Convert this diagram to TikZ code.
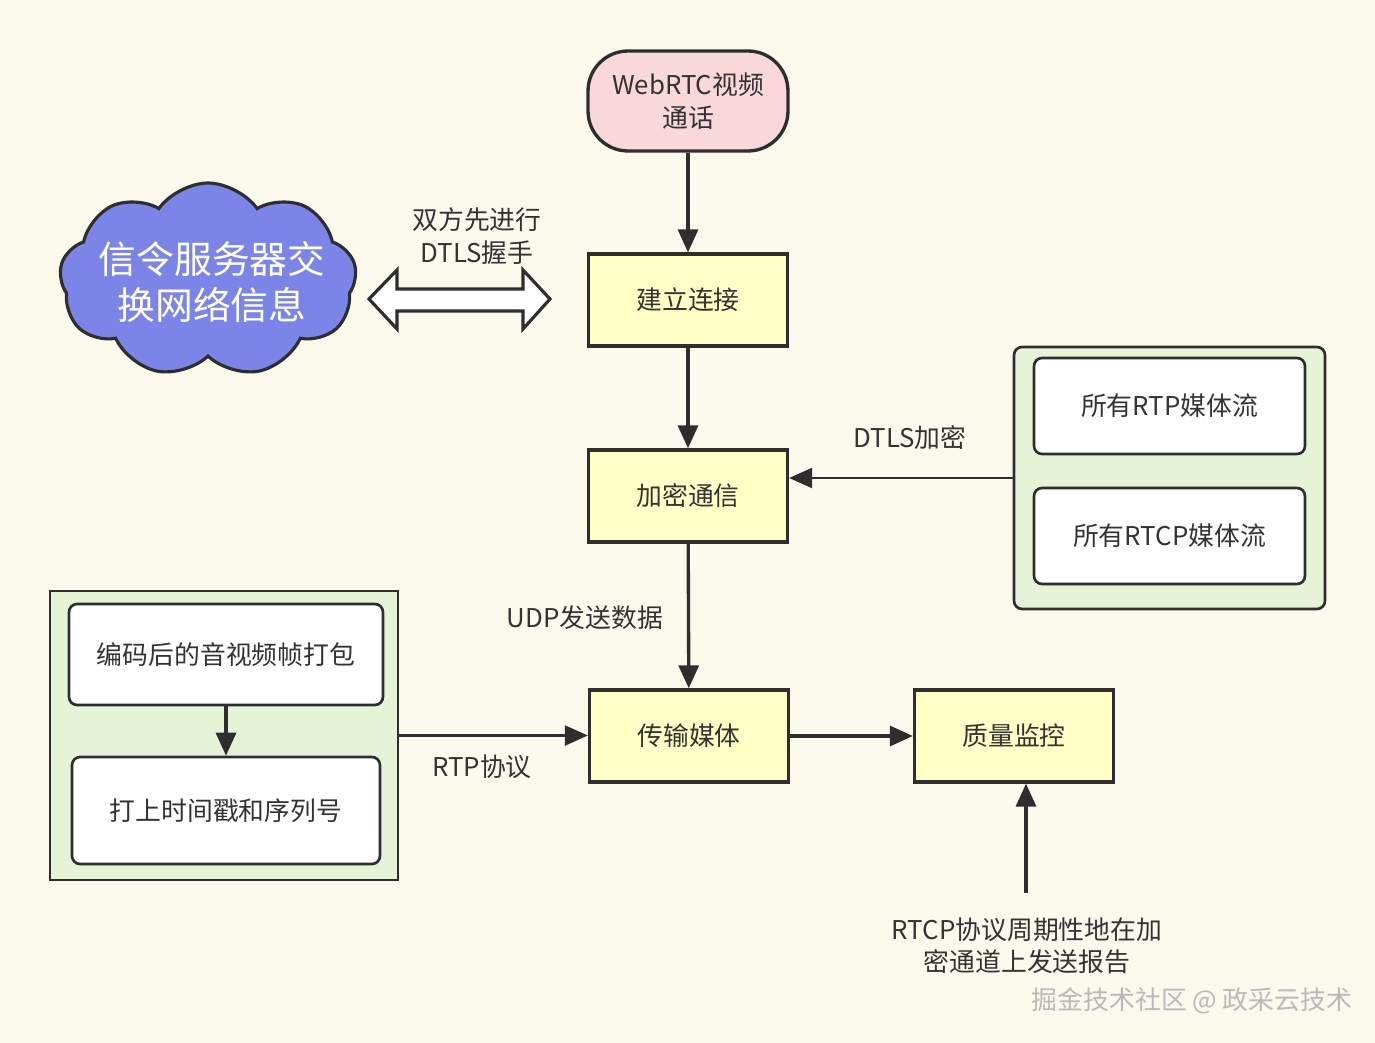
\documentclass[tikz,border=0pt]{standalone}
\usepackage{fontspec}
\setmainfont{Noto Sans CJK SC}
\usetikzlibrary{arrows.meta, shapes.symbols}
\definecolor{bg}{HTML}{FBF9EC}
\definecolor{edge}{HTML}{2E2E2E}
\definecolor{txt}{HTML}{333333}
\definecolor{boxyellow}{HTML}{FFFFC6}
\definecolor{startpink}{HTML}{F8D8D8}
\definecolor{groupgreen}{HTML}{E5F4D7}
\definecolor{cloudblue}{HTML}{7B85E8}
\begin{document}
\begin{tikzpicture}[x=0.02cm, y=-0.02cm,
		>={Triangle[length=0.46cm, width=0.4cm]},
		every node/.style={text=txt, font=\fontsize{14.7}{19}\selectfont},
		stepbox/.style={draw=edge, line width=1.9pt, fill=boxyellow,
				minimum width=3.98cm, minimum height=1.84cm},
		groupbox/.style={draw=edge, line width=1.5pt, fill=groupgreen},
		itembox/.style={draw=edge, line width=1.5pt, fill=white,
				rounded corners=0.16cm},
		link/.style={draw=edge, line width=1.9pt},
		thinlink/.style={draw=edge, line width=1.3pt},
		label/.style={align=center}
	]
	\fill[bg] (0,0) rectangle (1375,1043);
	\useasboundingbox (0,0) rectangle (1375,1043);

	% signalling cloud and handshake
	\node[cloud, cloud puffs=9, cloud puff arc=110, aspect=1.5,
		draw=edge, line width=1.8pt, fill=cloudblue,
		minimum width=5.94cm, minimum height=3.88cm] (cloud) at (208,280) {};
	\node[text=white, align=center,
		font=\fontsize{21.5}{26}\selectfont] (cloudtext) at (212,282)
	{信令服务器交\\换网络信息};
	\draw[edge, line width=1.8pt, fill=white] (369,299) -- (397,270) -- (397,289)
	-- (523,289) -- (523,270) -- (550,299) -- (523,329) -- (523,311)
	-- (397,311) -- (397,329) -- cycle;
	\node[label] (handshake) at (477,236) {双方先进行\\DTLS握手};

	% main flow
	\node[draw=edge, line width=1.9pt, fill=startpink, rounded corners=0.8cm,
		minimum width=4cm, minimum height=2cm, align=center,
		font=\fontsize{14.7}{18.7}\selectfont] (start) at (688,101)
	{WebRTC视频\\通话};
	\node[stepbox] (connect) at (688,300) {建立连接};
	\node[stepbox] (crypt) at (688,496) {加密通信};
	\node[stepbox] (media) at (689,736) {传输媒体};
	\node[stepbox] (quality) at (1014,736) {质量监控};

	% encrypted streams
	\node[groupbox, rounded corners=0.16cm, minimum width=6.22cm,
		minimum height=5.24cm] (streams) at (1169.5,478) {};
	\node[itembox, minimum width=5.42cm, minimum height=1.92cm] (rtp)
	at (1169.5,406) {所有RTP媒体流};
	\node[itembox, minimum width=5.42cm, minimum height=1.92cm] (rtcp)
	at (1169.5,536) {所有RTCP媒体流};

	% packetizing
	\node[groupbox, minimum width=6.96cm, minimum height=5.78cm] (packing)
	at (224,735.5) {};
	\node[itembox, minimum width=6.28cm, minimum height=2.02cm] (pack)
	at (226,654.5) {编码后的音视频帧打包};
	\node[itembox, minimum width=6.16cm, minimum height=2.14cm] (stamp)
	at (226,810.5) {打上时间戳和序列号};

	\draw[link, ->] (start) -- (connect);
	\draw[link, ->] (connect) -- (crypt);
	\draw[link, ->] (crypt) -- (media);
	\draw[link, ->] (media) -- (quality);
	\draw[link, ->] (pack) -- (stamp);
	\draw[thinlink, ->] (streams.west) -- (streams.west -| crypt.east);
	\draw[thinlink, ->] (packing.east) -- (packing.east -| media.west);

	\coordinate (report) at (1026,893);
	\draw[link, ->] (report) -- (report |- quality.south);

	\node[label] (dtls) at (910,438) {DTLS加密};
	\node[label] (udp) at (585,618) {UDP发送数据};
	\node[label] (rtpproto) at (482,767) {RTP协议};
	\node[label, font=\fontsize{14.7}{18}\selectfont] (reporttext) at (1027,946)
	{RTCP协议周期性地在加\\密通道上发送报告};
	\node[text=gray!55] (mark) at (1192,1001) {掘金技术社区 @ 政采云技术};
\end{tikzpicture}
\end{document}
